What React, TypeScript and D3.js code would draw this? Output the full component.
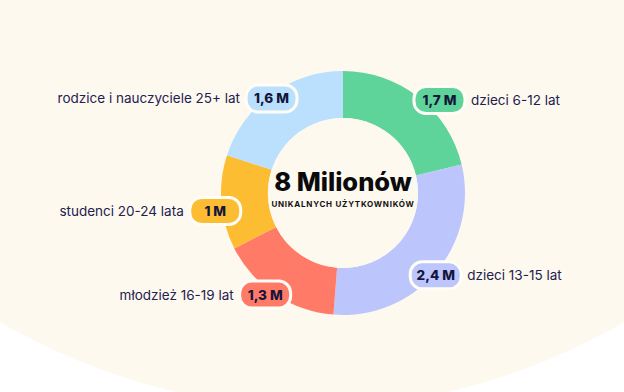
import React, { useEffect, useRef } from "react";
import * as d3 from "d3";

// segments, clockwise from 12 o'clock
const groups = [
  "dzieci 6-12 lat",
  "dzieci 13-15 lat",
  "młodzież 16-19 lat",
  "studenci 20-24 lata",
  "rodzice i nauczyciele 25+ lat",
];
const users = [1.7, 2.4, 1.3, 1.0, 1.6];
const valueLabels = ["1,7 M", "2,4 M", "1,3 M", "1 M", "1,6 M"];
const colors = ["#5fd49a", "#bcc5fc", "#ff7b68", "#fdbd33", "#bae0fd"];

const totalTitle = "8 Milionów";
const totalSubtitle = "UNIKALNYCH UŻYTKOWNIKÓW";

// small hand nudges so the pills sit where the designer put them
const pillAngleShift = [7.8, 1.1, 3.7, -3.5, -1.1];
const pillRadius = [134, 124, 128, 129, 118.5];

export default function App() {
  const svgRef = useRef<SVGSVGElement>(null);

  useEffect(() => {
    const svg = d3.select(svgRef.current);
    svg.selectAll("*").remove();

    const width = 624;
    const height = 392;
    const cx = 343;
    const cy = 193;
    const outer = 122;
    const inner = 75;
    const ink = "#1f2150";

    svg.append("rect").attr("width", width).attr("height", height).attr("fill", "#ffffff");

    // big cream backdrop
    svg
      .append("circle")
      .attr("cx", 312)
      .attr("cy", -209)
      .attr("r", 616)
      .attr("fill", "#fdf9ef");

    const data = groups.map((g, i) => ({ group: g, value: users[i], label: valueLabels[i], color: colors[i], i }));

    const pie = d3
      .pie<any>()
      .sort(null)
      .value((d) => d.value);
    const arcs = pie(data);

    const arc = d3.arc<any>().innerRadius(inner).outerRadius(outer);

    const g = svg.append("g").attr("transform", `translate(${cx},${cy})`);

    g.selectAll("path.slice")
      .data(arcs)
      .enter()
      .append("path")
      .attr("class", "slice")
      .attr("d", arc)
      .attr("fill", (d) => d.data.color);

    g.append("circle").attr("r", inner).attr("fill", "#fdf9ef");

    g.append("text")
      .attr("text-anchor", "middle")
      .attr("y", -2)
      .attr("font-family", "Inter, sans-serif")
      .attr("font-weight", 800)
      .attr("font-size", 25.5)
      .attr("fill", "#0b0b0b")
      .text(totalTitle);

    g.append("text")
      .attr("text-anchor", "middle")
      .attr("y", 14)
      .attr("font-family", "Inter, sans-serif")
      .attr("font-weight", 700)
      .attr("font-size", 8)
      .attr("letter-spacing", 0.75)
      .attr("fill", "#111111")
      .text(totalSubtitle);

    // value pills around the ring
    const pillW = 51;
    const pillH = 27;

    const pillPos = (d: any) => {
      const i = d.data.i;
      const a = (d.startAngle + d.endAngle) / 2 + (pillAngleShift[i] * Math.PI) / 180;
      const r = pillRadius[i];
      return [Math.sin(a) * r, -Math.cos(a) * r];
    };

    const lab = g
      .selectAll("g.lab")
      .data(arcs)
      .enter()
      .append("g")
      .attr("class", "lab")
      .attr("transform", (d) => {
        const [x, y] = pillPos(d);
        return `translate(${x},${y})`;
      });

    lab
      .append("rect")
      .attr("x", -pillW / 2)
      .attr("y", -pillH / 2)
      .attr("width", pillW)
      .attr("height", pillH)
      .attr("rx", 12)
      .attr("fill", (d) => d.data.color)
      .attr("stroke", "#fffdf6")
      .attr("stroke-width", 3);

    lab
      .append("text")
      .attr("text-anchor", "middle")
      .attr("y", 5)
      .attr("font-family", "Inter, sans-serif")
      .attr("font-weight", 800)
      .attr("font-size", 13.5)
      .attr("fill", "#14163c")
      .text((d) => d.data.label);

    const rightSide = (d: any) => (d.startAngle + d.endAngle) / 2 < Math.PI;

    lab
      .append("text")
      .attr("text-anchor", (d) => (rightSide(d) ? "start" : "end"))
      .attr("x", (d) => (rightSide(d) ? pillW / 2 + 6 : -pillW / 2 - 6))
      .attr("y", 5)
      .attr("font-family", "Inter, sans-serif")
      .attr("font-weight", 400)
      .attr("font-size", 13.5)
      .attr("fill", ink)
      .text((d) => d.data.group);
  }, []);

  return (
    <svg
      ref={svgRef}
      width={624}
      height={392}
      style={{ position: "absolute", top: 0, left: 0, display: "block" }}
    />
  );
}
